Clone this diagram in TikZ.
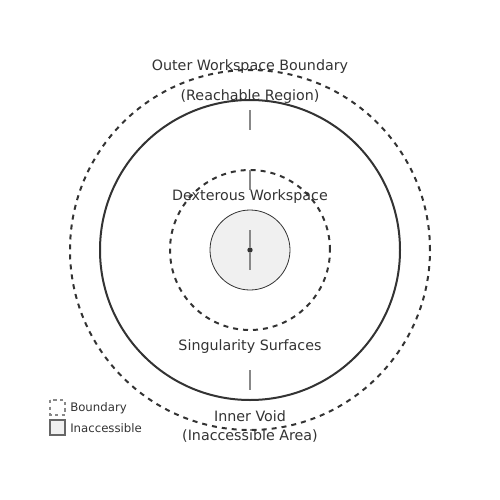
\documentclass[tikz,border=0pt]{standalone}
\usepackage{fontspec}
\setmainfont{DejaVu Sans}
\usepackage{xcolor}
\usepackage{tikz}
\usetikzlibrary{
    positioning
}
\definecolor{ink}{HTML}{333333}
\definecolor{tick}{HTML}{888888}
\definecolor{voidfill}{HTML}{F0F0F0}
\tikzstyle{zone} = [
    circle, draw=ink,
    line width=1.5pt,
    inner sep=0pt
]
\tikzstyle{dashzone} = [
    zone,
    dash pattern=on 3.75pt off 3.75pt
]
\tikzstyle{label} = [
    text=ink,
    font=\fontsize{10.7}{12}\selectfont,
    inner sep=0pt
]
\tikzstyle{keytext} = [
    text=ink,
    font=\fontsize{8.8}{10}\selectfont,
    inner sep=0pt,
    anchor=west
]
\tikzstyle{marker} = [
    draw=tick,
    line width=1.1pt
]

\begin{document}
\begin{tikzpicture}[x=0.75pt, y=-0.75pt]
    \useasboundingbox (0,0) rectangle (500,500);
    % regions
    \node[dashzone, minimum size=270pt] (outer) at (250,250) {};
    \node[zone, minimum size=225pt] (reach) at (250,250) {};
    \node[dashzone, minimum size=120pt] (dext) at (250,250) {};
    \node[circle, draw=ink, fill=voidfill, line width=0.6pt,
          inner sep=0pt, minimum size=60pt] (void) at (250,250) {};
    \node[circle, fill=ink, inner sep=0pt, minimum size=4pt] (core) at (250,250) {};
    % markers
    \draw[marker] (250,110) -- (250,130);
    \draw[marker] (250,170) -- (250,190);
    \draw[marker] (250,230) -- (core.north);
    \draw[marker] (core.south) -- (250,270);
    \draw[marker] (250,370) -- (250,390);
    % labels
    \node[label] (outerlbl) at (250,66.5) {Outer Workspace Boundary};
    \node[label] (reachlbl) at (250,96.5) {(Reachable Region)};
    \node[label] (dextlbl) at (250,196.5) {Dexterous Workspace};
    \node[label] (singlbl) at (250,346.5) {Singularity Surfaces};
    \node[label] (voidlbl) at (250,416.5) {Inner Void};
    \node[label] (arealbl) at (250,436.5) {(Inaccessible Area)};
    % legend
    \draw[draw=tick, fill=white, line width=0.9pt, dash pattern=on 2.5pt off 2.5pt]
        (50,400) rectangle (65,415);
    \node[keytext] (keyb) at (70,408.5) {Boundary};
    \draw[draw=black!60, fill=voidfill, line width=0.9pt]
        (50,420) rectangle (65,435);
    \node[keytext] (keyi) at (70,428.5) {Inaccessible};
\end{tikzpicture}
\end{document}
